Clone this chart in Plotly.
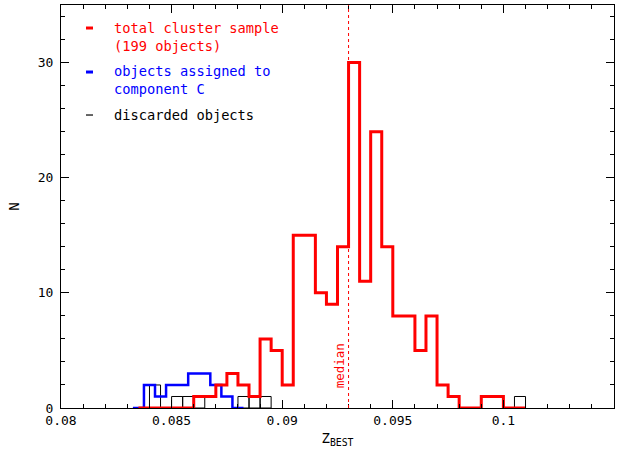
import numpy as np
import plotly.graph_objects as go

BIN = 0.0005
# total cluster sample: bin starts from 0.0835
red_start = 0.0835
red_counts = [0, 0, 0, 0, 0, 1, 1, 2, 3, 2, 1, 6, 5, 2, 15, 15, 10, 9, 14, 30,
              11, 24, 14, 8, 8, 5, 8, 2, 1, 0, 0, 1, 1, 0, 0]
# objects assigned to component C: bin starts from 0.08325
blue_start = 0.08325
blue_counts = [0, 2, 1, 2, 2, 3, 3, 2, 1, 0]
# discarded objects: bin starts
black_starts = [0.084, 0.085, 0.0855, 0.086, 0.088, 0.0885, 0.089, 0.1005]
black_counts = [2, 1, 1, 1, 1, 1, 1, 1]
median_z = 0.093

x_ticks = [0.08, 0.085, 0.09, 0.095, 0.1, 0.105]
x_ticklabels = ["0.08", "0.085", "0.09", "0.095", "0.1", "0.105"]
y_ticks = [0, 10, 20, 30]

FONT = "DejaVu Sans Mono"


def step(start, counts):
    edges = start + BIN * np.arange(len(counts) + 1)
    ys = list(counts) + [counts[-1]]
    return edges, ys


fig = go.Figure()

fig.add_trace(go.Bar(
    x=[s + BIN / 2 for s in black_starts], y=black_counts, width=BIN,
    marker=dict(color="rgba(0,0,0,0)", line=dict(color="black", width=1)),
    showlegend=False, hoverinfo="skip"))

bx, by = step(blue_start, blue_counts)
fig.add_trace(go.Scatter(x=bx, y=by, mode="lines", line=dict(color="#0000ff", width=2.5, shape="hv"),
                         showlegend=False))

rx, ry = step(red_start, red_counts)
fig.add_trace(go.Scatter(x=rx, y=ry, mode="lines", line=dict(color="#ff0000", width=3, shape="hv"),
                         showlegend=False))

fig.add_shape(type="line", xref="x", yref="paper", x0=median_z, x1=median_z, y0=0, y1=1,
              line=dict(color="#ff0000", width=1, dash="dot"))
fig.add_annotation(x=median_z, y=1.5, xref="x", yref="y", text="median", textangle=-90,
                   showarrow=False, xanchor="right", yanchor="bottom", xshift=0,
                   font=dict(family=FONT, size=12.5, color="#ff0000"))

# legend
legend_items = [
    ("total cluster sample<br>(199 objects)", "#ff0000", 0.9206, 0.9429, 3),
    ("objects assigned to<br>component C", "#0000ff", 0.8127, 0.8337, 3),
    ("discarded objects", "black", 0.727, 0.727, 1.2),
]
for text, col, ty, dy, lw in legend_items:
    fig.add_annotation(x=0.092, y=ty, xref="paper", yref="paper", text=text, align="left",
                       showarrow=False, xanchor="left", yanchor="middle",
                       font=dict(family=FONT, size=13.7, color=col))
    fig.add_shape(type="line", xref="paper", yref="paper", x0=0.0452, x1=0.0579, y0=dy, y1=dy,
                  line=dict(color=col, width=lw))

axis_common = dict(showline=True, linecolor="black", linewidth=1, mirror="allticks",
                   ticks="inside", ticklen=8, tickcolor="black", tickwidth=1,
                   showgrid=False, zeroline=False,
                   tickfont=dict(family=FONT, size=13, color="black"))

fig.update_xaxes(range=[0.08, 0.105], tickvals=x_ticks, ticktext=x_ticklabels,
                 minor=dict(dtick=0.001, ticks="inside", ticklen=4, tickcolor="black", showgrid=False),
                 title=dict(text="Z<sub>BEST</sub>", font=dict(family=FONT, size=14, color="black"), standoff=6),
                 **axis_common)
fig.update_yaxes(range=[0, 35], tickvals=y_ticks,
                 minor=dict(dtick=2, ticks="inside", ticklen=4, tickcolor="black", showgrid=False),
                 title=dict(text="N", font=dict(family=FONT, size=14, color="black"), standoff=14),
                 ticklabelstandoff=4,
                 **axis_common)

fig.update_layout(width=631, height=450, margin=dict(l=61, r=17, t=5, b=42),
                  plot_bgcolor="white", paper_bgcolor="white", barmode="overlay",
                  showlegend=False)

fig.write_html("out.html", config={"displayModeBar": False},
               post_script="document.body.style.margin='0';document.body.style.padding='0';")
